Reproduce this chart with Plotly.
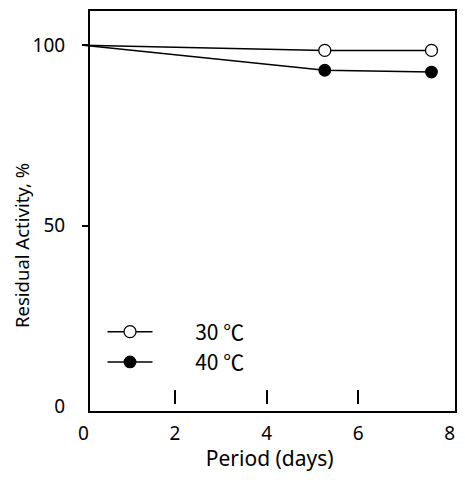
import plotly.graph_objects as go

# data
period_days = [0, 5.27, 7.6]
activity_30c = [100, 98.6, 98.6]
activity_40c = [100, 93.1, 92.6]
series_names = ["30 ℃", "40 ℃"]

x_ticks = [0, 2, 4, 6, 8]
x_inner_ticks = [2, 4, 6]
y_ticks = [0, 50, 100]
y_marks = [50, 100]

FONT = "Noto Sans, Noto Sans CJK JP, sans-serif"
LEG_FONT = "Noto Sans CJK JP, Noto Sans, sans-serif"

# the page puts the figure 8px in from the top-left corner, keep it inside
# the window so no scrollbars show up
W, H = 449, 464
ML, MR, MT, MB = 70, 1, 2, 60
ZERO_X = 75.4       # px where day 0 falls
PX_PER_DAY = 45.8
BOX_LEFT = 81       # px where the frame starts
X_MAX = (W - MR - ZERO_X) / PX_PER_DAY
Y_RANGE = [-1.66, 109.8]

plot_w = W - ML - MR
plot_h = H - MT - MB
d_lab = (ZERO_X - ML) / plot_w
d_box = (BOX_LEFT - ML) / plot_w


def series_trace(y, name, fill, size):
    # points go in reverse so the legend picks up a visible marker,
    # the day-0 start point has no marker in the original
    n = len(period_days)
    fills = [fill] * (n - 1) + ["rgba(0,0,0,0)"]
    edges = ["black"] * (n - 1) + ["rgba(0,0,0,0)"]
    return go.Scatter(
        x=period_days[::-1], y=y[::-1], name="\u00a0" * 8 + name,
        mode="lines+markers",
        line=dict(color="black", width=1.5),
        marker=dict(size=size, color=fills, line=dict(color=edges, width=1.3)),
    )


fig = go.Figure()
fig.add_trace(series_trace(activity_30c, series_names[0], "white", 12))
fig.add_trace(series_trace(activity_40c, series_names[1], "black", 11.5))

# invisible helpers so the overlay axes get drawn
fig.add_trace(go.Scatter(x=[None], y=[None], xaxis="x2", yaxis="y",
                         showlegend=False, hoverinfo="skip"))
fig.add_trace(go.Scatter(x=[None], y=[None], xaxis="x", yaxis="y2",
                         showlegend=False, hoverinfo="skip"))

fig.update_layout(
    width=W, height=H,
    margin=dict(l=ML, r=MR, t=MT, b=MB),
    paper_bgcolor="white", plot_bgcolor="white",
    font=dict(family=FONT, size=19, color="black"),
    showlegend=True,
    legend=dict(
        x=(94.5 - ML) / plot_w, y=0.25, xanchor="left", yanchor="top",
        bgcolor="rgba(0,0,0,0)", itemwidth=45,
        font=dict(size=21, family=LEG_FONT),
    ),
    xaxis=dict(
        domain=[d_lab, 1], range=[0, X_MAX],
        showline=False, showgrid=False, zeroline=False, ticks="",
        tickvals=x_ticks, ticklabelstandoff=8,
        title=dict(text="Period (days)", standoff=10,
                   font=dict(family=FONT, size=21)),
    ),
    # floating inner tick marks above the bottom frame
    xaxis2=dict(
        overlaying="x", anchor="free", position=8 / plot_h,
        range=[0, X_MAX], side="bottom",
        showline=False, showgrid=False, zeroline=False,
        ticks="inside", ticklen=14, tickwidth=1.5, tickcolor="black",
        tickvals=x_inner_ticks, showticklabels=False,
    ),
    # labels only; a clear tick pushes them away from the frame
    yaxis=dict(
        range=Y_RANGE, anchor="free", position=d_box,
        showline=False, showgrid=False, zeroline=False,
        ticks="outside", ticklen=20, tickcolor="rgba(0,0,0,0)",
        tickvals=y_ticks,
    ),
    yaxis2=dict(
        overlaying="y", anchor="free", position=d_box, range=Y_RANGE,
        showline=False, showgrid=False, zeroline=False,
        ticks="outside", ticklen=7, tickwidth=1.5, tickcolor="black",
        tickvals=y_marks, showticklabels=False,
    ),
    shapes=[dict(
        type="rect", xref="paper", yref="paper",
        x0=d_box, x1=1, y0=0, y1=1,
        line=dict(color="black", width=2), layer="above",
    )],
    annotations=[dict(
        text="Residual Activity, %", textangle=-90,
        xref="paper", yref="paper",
        x=(13 - ML) / plot_w, y=(H - MB - 238) / plot_h,
        xanchor="center", yanchor="middle", showarrow=False,
        font=dict(size=18.5),
    )],
)

fig.write_html("out.html")
